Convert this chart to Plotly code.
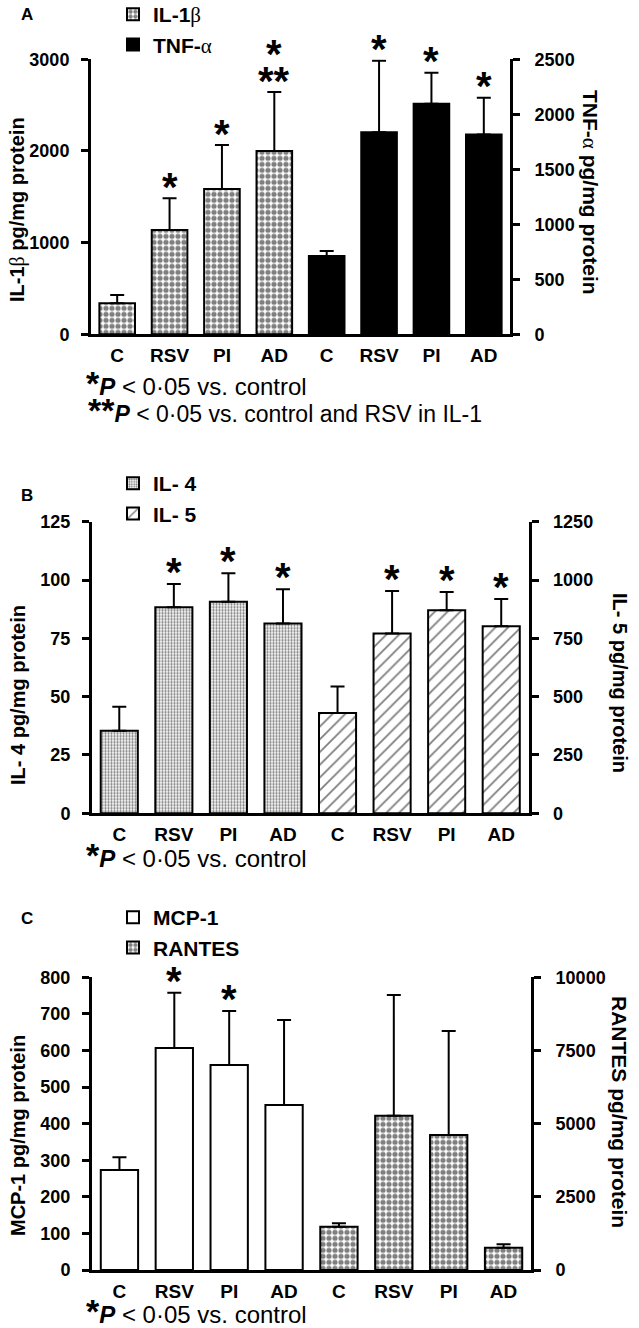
import plotly.graph_objects as go

W, H = 639, 1328

# ---------------- data ----------------
groups = ["C", "RSV", "PI", "AD"]

# Panel A
il1b = [338, 1137, 1585, 2000]
il1b_err = [91, 346, 479, 643]
il1b_sig = ["", "*", "*", "**"]
il1b_sig_top = ["", "", "", "*"]
tnf = [712, 1837, 2097, 1816]
tnf_err = [46, 650, 281, 335]
tnf_sig = ["", "*", "*", "*"]

# Panel B
il4 = [35.4, 88.3, 90.7, 81.4]
il4_err = [10.3, 10.0, 12.2, 14.6]
il4_sig = ["", "*", "*", "*"]
il5 = [430, 771, 870, 802]
il5_err = [114, 182, 79, 117]
il5_sig = ["", "*", "*", "*"]

# Panel C
mcp1 = [273, 607, 560, 451]
mcp1_err = [35, 151, 148, 232]
mcp1_sig = ["", "*", "*", ""]
rantes = [1479, 5270, 4611, 762]
rantes_err = [116, 4122, 3552, 116]
rantes_sig = ["", "", "", ""]

FONT = "Arial, Liberation Sans, sans-serif"
pos_left = list(range(len(groups)))
pos_right = [p + len(groups) for p in pos_left]
ticktext = groups + groups
tickvals = pos_left + pos_right


def px_x(p):
    return p / W


def px_y(p):
    return 1 - p / H


fig = go.Figure()

checker = dict(shape=".", fgcolor="black", bgcolor="white", size=6, solidity=0.6, fillmode="overlay")
stipple = dict(shape=".", fgcolor="black", bgcolor="white", size=3, solidity=0.45, fillmode="overlay")
hatch = dict(shape="/", fgcolor="black", bgcolor="white", size=9, solidity=0.2, fillmode="overlay")


def bar(x, y, err, name, xa, ya, legend, color="white", pattern=None):
    marker = dict(color=color, line=dict(color="black", width=2))
    if pattern:
        marker["pattern"] = pattern
    return go.Bar(
        x=x, y=y, name=name, xaxis=xa, yaxis=ya, legend=legend, width=0.68,
        marker=marker,
        error_y=dict(type="data", array=err, arrayminus=[0] * len(err), symmetric=False,
                     color="black", thickness=2, width=7),
    )


GREEK = "<span style='font-family:serif;font-weight:normal'>%s</span>"

fig.add_trace(bar(pos_left, il1b, il1b_err, "IL-1" + GREEK % "β", "x", "y", "legend", pattern=checker))
fig.add_trace(bar(pos_right, tnf, tnf_err, "TNF-" + GREEK % "α", "x", "y2", "legend", color="black"))
fig.add_trace(bar(pos_left, il4, il4_err, "IL- 4", "x2", "y3", "legend2", pattern=stipple))
fig.add_trace(bar(pos_right, il5, il5_err, "IL- 5", "x2", "y4", "legend2", pattern=hatch))
fig.add_trace(bar(pos_left, mcp1, mcp1_err, "MCP-1", "x3", "y5", "legend3"))
fig.add_trace(bar(pos_right, rantes, rantes_err, "RANTES", "x3", "y6", "legend3", pattern=checker))

annotations = []


def stars(xs, vals, errs, sig, xref, yref, shift):
    for x, v, e, s in zip(xs, vals, errs, sig):
        if s:
            annotations.append(dict(x=x, y=v + e, xref=xref, yref=yref, text=s, showarrow=False,
                                    yanchor="bottom", yshift=shift,
                                    font=dict(family=FONT, size=40, color="black", weight="bold")))


stars(pos_left, il1b, il1b_err, il1b_sig, "x", "y", -13)
stars(pos_left, il1b, il1b_err, il1b_sig_top, "x", "y", 14)
stars(pos_right, tnf, tnf_err, tnf_sig, "x", "y2", -12)
stars(pos_left, il4, il4_err, il4_sig, "x2", "y3", -12)
stars(pos_right, il5, il5_err, il5_sig, "x2", "y4", -12)
stars(pos_left, mcp1, mcp1_err, mcp1_sig, "x3", "y5", -12)
stars(pos_right, rantes, rantes_err, rantes_sig, "x3", "y6", -12)


def text(x, y, t, size=17, weight="bold", angle=0, xanchor="center", yanchor="middle"):
    annotations.append(dict(x=px_x(x), y=px_y(y), xref="paper", yref="paper", text=t,
                            showarrow=False, textangle=angle, xanchor=xanchor, yanchor=yanchor,
                            font=dict(family=FONT, size=size, color="black", weight=weight)))


# panel letters
text(27, 14, "A", 17)
text(27, 495, "B", 17)
text(27, 918, "C", 17)

# axis titles
text(18, 210, "IL-1" + GREEK % "β" + " pg/mg protein", 20, angle=-90)
text(590, 192, "TNF-" + GREEK % "α" + " pg/mg protein", 21, angle=90)
text(18, 695, "IL- 4 pg/mg protein", 20, angle=-90)
text(620, 683, "IL- 5 pg/mg protein", 20, angle=90)
text(18, 1136, "MCP-1 pg/mg protein", 20, angle=-90)
text(620, 1112, "RANTES pg/mg protein", 21, angle=90)

# footnotes
star_fn = "<span style='font-size:34px;font-weight:bold'>*</span>"
fn1 = star_fn + "<i><b>P</b></i> &lt; 0·05 vs. control"
fn2 = star_fn + star_fn + "<i><b>P</b></i> &lt; 0·05 vs. control and RSV in IL-1"
text(84, 383, fn1, 24, weight="normal", xanchor="left")
text(86, 410, fn2, 23, weight="normal", xanchor="left")
text(84, 855, fn1, 24, weight="normal", xanchor="left")
text(84, 1311, fn1, 24, weight="normal", xanchor="left")

tickfont = dict(family=FONT, size=18, color="black", weight="bold")
catfont = dict(family=FONT, size=19, color="black", weight="bold")


def xaxis(x0, x1, anchor):
    return dict(domain=[px_x(x0), px_x(x1)], anchor=anchor, range=[-0.5, 7.5],
                tickmode="array", tickvals=tickvals, ticktext=ticktext, tickfont=catfont,
                showline=True, linecolor="black", linewidth=3, ticks="", showgrid=False,
                zeroline=False, ticklabelstandoff=2, fixedrange=True, automargin=False)


def yaxis(y_top, y_bot, anchor, rng, dtick, side="left", overlaying=None):
    d = dict(domain=[px_y(y_bot), px_y(y_top)], anchor=anchor, range=rng, dtick=dtick, tick0=0,
             showline=True, linecolor="black", linewidth=3, ticks="outside", ticklen=7,
             tickwidth=3, tickcolor="black", tickfont=tickfont, showgrid=False, zeroline=False,
             side=side, ticklabelstandoff=(11 if side == "right" else 8), fixedrange=True,
             tickformat="d", automargin=False)
    if overlaying:
        d["overlaying"] = overlaying
    return d


legend_common = dict(font=dict(family=FONT, size=21, color="black", weight="bold"),
                     bgcolor="rgba(0,0,0,0)", tracegroupgap=0, itemwidth=30,
                     xanchor="left", yanchor="top", traceorder="normal")

fig.update_layout(
    width=W, height=H, margin=dict(l=0, r=0, t=0, b=0, autoexpand=False),
    paper_bgcolor="white", plot_bgcolor="white", barmode="overlay", showlegend=True,
    xaxis=xaxis(91, 510, "y"),
    yaxis=yaxis(59.3, 334.3, "x", [0, 3000], 1000),
    yaxis2=yaxis(59.3, 334.3, "x", [0, 2500], 500, side="right", overlaying="y"),
    xaxis2=xaxis(92, 528.5, "y3"),
    yaxis3=yaxis(521.7, 813.3, "x2", [0, 125], 25),
    yaxis4=yaxis(521.7, 813.3, "x2", [0, 1250], 250, side="right", overlaying="y3"),
    xaxis3=xaxis(92, 531, "y5"),
    yaxis5=yaxis(977.3, 1270, "x3", [0, 800], 100),
    yaxis6=yaxis(977.3, 1270, "x3", [0, 10000], 2500, side="right", overlaying="y5"),
    legend=dict(x=px_x(113), y=px_y(-6), **legend_common),
    legend2=dict(x=px_x(113), y=px_y(463), **legend_common),
    legend3=dict(x=px_x(113), y=px_y(897), **legend_common),
    annotations=annotations,
)

fig.write_html("out.html", post_script="document.body.style.margin='0px';",
               config={"displayModeBar": False})
